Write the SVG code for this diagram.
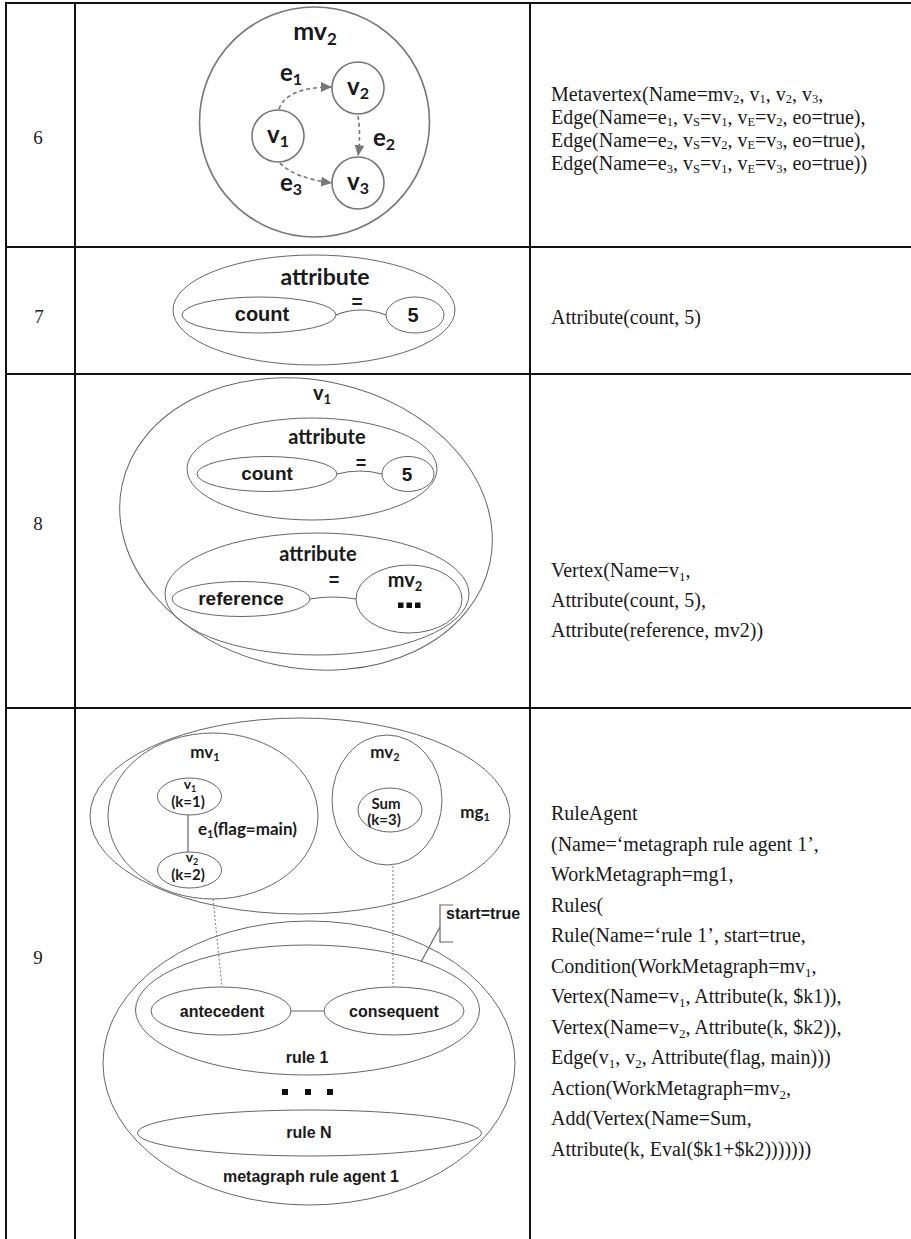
<svg xmlns="http://www.w3.org/2000/svg" width="911" height="1239" viewBox="0 0 911 1239">
  <style>
    .grid { stroke: #111; stroke-width: 2; fill: none; }
    .num { font-family: "Liberation Serif", "Times New Roman", serif; font-size: 19px; fill: #222; text-anchor: middle; }
    .desc { font-family: "Liberation Serif", "Times New Roman", serif; font-size: 20px; fill: #1a1a1a; }
    .s { font-size: 13px; }
    .s6 { font-size: 12.5px; }
    .shape { fill: none; stroke: #666; stroke-width: 1; }
    .c6 { fill: none; stroke: #777; stroke-width: 1.6; }
    .edge6 { fill: none; stroke: #777; stroke-width: 1.6; stroke-dasharray: 4 3; marker-end: url(#arrow); }
    .link { fill: none; stroke: #666; stroke-width: 1.2; }
    .dot { fill: none; stroke: #777; stroke-width: 1; stroke-dasharray: 2 2; }
    .lb { font-family: Lato, "Open Sans", sans-serif; font-weight: 700; fill: #1a1a1a; text-anchor: middle; }
    .ar { font-family: "Liberation Sans", Arial, sans-serif; font-weight: 700; fill: #1a1a1a; text-anchor: middle; }
    .sq { fill: #111; }
  </style>
  <defs>
    <marker id="arrow" markerUnits="userSpaceOnUse" markerWidth="12" markerHeight="10" refX="11" refY="5" orient="auto">
      <path d="M0,0 L11,5 L0,10 Z" fill="#777"/>
    </marker>
  </defs>

  <rect width="911" height="1239" fill="#fff"/>

  <!-- table grid -->
  <g id="table">
    <line class="grid" x1="6" y1="3" x2="911" y2="3"/>
    <line class="grid" x1="6" y1="247" x2="911" y2="247"/>
    <line class="grid" x1="6" y1="374" x2="911" y2="374"/>
    <line class="grid" x1="6" y1="708" x2="911" y2="708"/>
    <line class="grid" x1="6" y1="2" x2="6" y2="1239"/>
    <line class="grid" x1="75" y1="2" x2="75" y2="1239"/>
    <line class="grid" x1="530" y1="2" x2="530" y2="1239"/>
  </g>

  <!-- row numbers -->
  <g id="row-numbers">
    <text class="num" x="38" y="144">6</text>
    <text class="num" x="39" y="323">7</text>
    <text class="num" x="38" y="530">8</text>
    <text class="num" x="38" y="964">9</text>
  </g>

  <!-- row 6: metavertex mv2 -->
  <g id="mv2-metavertex">
    <circle class="c6" cx="314.5" cy="122" r="115"/>
    <text class="lb" x="315" y="40" font-size="25">mv<tspan font-size="17" dy="5">2</tspan></text>
  </g>
  <g id="r6-v1">
    <circle class="c6" cx="278" cy="136" r="26"/>
    <text class="lb" x="278" y="143" font-size="24">v<tspan font-size="16" dy="4">1</tspan></text>
  </g>
  <g id="r6-v2">
    <circle class="c6" cx="358" cy="88" r="26"/>
    <text class="lb" x="358" y="95" font-size="24">v<tspan font-size="16" dy="4">2</tspan></text>
  </g>
  <g id="r6-v3">
    <circle class="c6" cx="358" cy="183" r="26"/>
    <text class="lb" x="358" y="190" font-size="24">v<tspan font-size="16" dy="4">3</tspan></text>
  </g>
  <g id="r6-edges">
    <path class="edge6" d="M279,109 Q287,87 332,87"/>
    <path class="edge6" d="M358,116 Q361,135 358,156"/>
    <path class="edge6" d="M280,163 Q294,178 332,183"/>
    <text class="lb" x="291" y="81" font-size="24">e<tspan font-size="16" dy="4">1</tspan></text>
    <text class="lb" x="384" y="146" font-size="24">e<tspan font-size="16" dy="4">2</tspan></text>
    <text class="lb" x="291" y="191" font-size="24">e<tspan font-size="16" dy="4">3</tspan></text>
  </g>

  <!-- row 7: attribute -->
  <g id="r7-attribute">
    <ellipse class="shape" cx="314" cy="310" rx="141" ry="55"/>
    <text class="lb" x="325" y="285" font-size="23">attribute</text>
    <text class="ar" x="357" y="308" font-size="19">=</text>
  </g>
  <g id="r7-count">
    <ellipse class="shape" cx="259" cy="315" rx="77" ry="18"/>
    <text class="ar" x="262" y="321" font-size="20">count</text>
  </g>
  <g id="r7-value">
    <ellipse class="shape" cx="415" cy="315" rx="29" ry="18"/>
    <text class="ar" x="413" y="322" font-size="20">5</text>
  </g>
  <g id="r7-links">
    <path class="link" d="M336,315 Q360,305 386,315"/>
  </g>

  <!-- row 8: vertex v1 with attributes -->
  <g id="r8-v1">
    <ellipse class="shape" cx="306" cy="524" rx="188" ry="144" transform="rotate(12 306 524)"/>
    <text class="lb" x="322" y="400" font-size="20">v<tspan font-size="13" dy="4">1</tspan></text>
  </g>
  <g id="r8-attribute-count">
    <ellipse class="shape" cx="312" cy="469" rx="125" ry="51"/>
    <text class="lb" x="327" y="444" font-size="20">attribute</text>
    <text class="ar" x="361" y="469" font-size="18">=</text>
  </g>
  <g id="r8-count">
    <ellipse class="shape" cx="267" cy="474" rx="70" ry="17.5"/>
    <text class="ar" x="267" y="480" font-size="19">count</text>
  </g>
  <g id="r8-value">
    <ellipse class="shape" cx="408" cy="474" rx="26" ry="17.5"/>
    <text class="ar" x="407" y="481" font-size="19">5</text>
  </g>
  <g id="r8-attribute-ref">
    <ellipse class="shape" cx="317" cy="594" rx="152" ry="61"/>
    <text class="lb" x="318" y="561" font-size="20">attribute</text>
    <text class="ar" x="334" y="586" font-size="18">=</text>
  </g>
  <g id="r8-reference">
    <ellipse class="shape" cx="241" cy="599" rx="69" ry="17.5"/>
    <text class="ar" x="241" y="605" font-size="19">reference</text>
  </g>
  <g id="r8-mv2">
    <ellipse class="shape" cx="409" cy="599" rx="53" ry="34"/>
    <text class="lb" x="405" y="587" font-size="20">mv<tspan font-size="13" dy="4">2</tspan></text>
    <rect class="sq" x="398" y="602.5" width="5.5" height="5.5"/>
    <rect class="sq" x="406.5" y="602.5" width="5.5" height="5.5"/>
    <rect class="sq" x="415" y="602.5" width="5.5" height="5.5"/>
  </g>
  <g id="r8-links">
    <path class="link" d="M337,474 Q360,468 382,474"/>
    <path class="link" d="M310,599 Q333,595 356,599"/>
  </g>

  <!-- row 9: metagraph mg1 and rule agent -->
  <g id="mg1">
    <ellipse class="shape" cx="300" cy="816" rx="210" ry="98"/>
    <text class="lb" x="475" y="818" font-size="17">mg<tspan font-size="11" dy="3">1</tspan></text>
  </g>
  <g id="mv1">
    <ellipse class="shape" cx="213" cy="816" rx="105" ry="83"/>
    <text class="lb" x="205" y="758" font-size="17">mv<tspan font-size="11" dy="3">1</tspan></text>
  </g>
  <g id="r9-v1">
    <ellipse class="shape" cx="189.5" cy="796.5" rx="32" ry="18.5"/>
    <text class="lb" x="190" y="789" font-size="14">v<tspan font-size="9" dy="3">1</tspan></text>
    <text class="lb" x="188" y="807" font-size="15">(k=1)</text>
  </g>
  <g id="r9-v2">
    <ellipse class="shape" cx="189.5" cy="870" rx="32" ry="18"/>
    <text class="lb" x="192" y="862" font-size="14">v<tspan font-size="9" dy="3">2</tspan></text>
    <text class="lb" x="188" y="880" font-size="15">(k=2)</text>
  </g>
  <g id="mv2">
    <ellipse class="shape" cx="387" cy="800" rx="55" ry="65"/>
    <text class="lb" x="385" y="758" font-size="17">mv<tspan font-size="11" dy="3">2</tspan></text>
  </g>
  <g id="sum">
    <ellipse class="shape" cx="390" cy="810" rx="32" ry="22"/>
    <text class="lb" x="386" y="809" font-size="15">Sum</text>
    <text class="lb" x="384" y="825" font-size="15">(k=3)</text>
  </g>
  <g id="agent">
    <ellipse class="shape" cx="309" cy="1063" rx="206" ry="142"/>
    <text class="ar" x="311" y="1182" font-size="16">metagraph rule agent 1</text>
  </g>
  <g id="rule-1">
    <ellipse class="shape" cx="307.5" cy="1010" rx="172" ry="65"/>
    <text class="ar" x="307" y="1063" font-size="16">rule 1</text>
  </g>
  <g id="antecedent">
    <ellipse class="shape" cx="221" cy="1011" rx="70" ry="24"/>
    <text class="ar" x="222" y="1017" font-size="16">antecedent</text>
  </g>
  <g id="consequent">
    <ellipse class="shape" cx="394" cy="1011" rx="70" ry="24"/>
    <text class="ar" x="394" y="1017" font-size="16">consequent</text>
  </g>
  <g id="ellipsis">
    <rect class="sq" x="282" y="1089" width="6" height="6"/>
    <rect class="sq" x="305" y="1089" width="6" height="6"/>
    <rect class="sq" x="327" y="1089" width="6" height="6"/>
  </g>
  <g id="rule-n">
    <ellipse class="shape" cx="309.5" cy="1133" rx="172" ry="23"/>
    <text class="ar" x="309" y="1138" font-size="16">rule N</text>
  </g>
  <g id="start-callout">
    <path class="link" d="M453,905 H440 V942 H453" stroke-width="1"/>
    <path class="link" d="M440,927 L421,962" stroke-width="1"/>
    <text class="ar" x="446" y="919" font-size="16" style="text-anchor:start">start=true</text>
  </g>
  <g id="r9-connectors">
    <line class="link" x1="188" y1="815" x2="188" y2="852"/>
    <text class="lb" x="198" y="835" font-size="17" style="text-anchor:start">e<tspan font-size="11" dy="3">1</tspan><tspan dy="-3">(flag=main)</tspan></text>
    <line class="dot" x1="213" y1="899" x2="222" y2="987"/>
    <line class="dot" x1="393" y1="866" x2="393" y2="987"/>
    <line class="link" x1="291" y1="1011" x2="324" y2="1011"/>
  </g>

  <!-- textual notation column -->
  <g id="notation-6">
    <text class="desc" x="551" y="100.5">Metavertex(Name=mv<tspan class="s6" dy="2.5">2</tspan><tspan dy="-2.5">, v</tspan><tspan class="s6" dy="2.5">1</tspan><tspan dy="-2.5">, v</tspan><tspan class="s6" dy="2.5">2</tspan><tspan dy="-2.5">, v</tspan><tspan class="s6" dy="2.5">3</tspan><tspan dy="-2.5">,</tspan><tspan x="551" y="123.7">Edge(Name=e</tspan><tspan class="s6" dy="2.5">1</tspan><tspan dy="-2.5">, v</tspan><tspan class="s6" dy="2.5">S</tspan><tspan dy="-2.5">=v</tspan><tspan class="s6" dy="2.5">1</tspan><tspan dy="-2.5">, v</tspan><tspan class="s6" dy="2.5">E</tspan><tspan dy="-2.5">=v</tspan><tspan class="s6" dy="2.5">2</tspan><tspan dy="-2.5">, eo=true),</tspan><tspan x="551" y="146.9">Edge(Name=e</tspan><tspan class="s6" dy="2.5">2</tspan><tspan dy="-2.5">, v</tspan><tspan class="s6" dy="2.5">S</tspan><tspan dy="-2.5">=v</tspan><tspan class="s6" dy="2.5">2</tspan><tspan dy="-2.5">, v</tspan><tspan class="s6" dy="2.5">E</tspan><tspan dy="-2.5">=v</tspan><tspan class="s6" dy="2.5">3</tspan><tspan dy="-2.5">, eo=true),</tspan><tspan x="551" y="170.1">Edge(Name=e</tspan><tspan class="s6" dy="2.5">3</tspan><tspan dy="-2.5">, v</tspan><tspan class="s6" dy="2.5">S</tspan><tspan dy="-2.5">=v</tspan><tspan class="s6" dy="2.5">1</tspan><tspan dy="-2.5">, v</tspan><tspan class="s6" dy="2.5">E</tspan><tspan dy="-2.5">=v</tspan><tspan class="s6" dy="2.5">3</tspan><tspan dy="-2.5">, eo=true))</tspan></text>
  </g>
  <g id="notation-7">
    <text class="desc" x="551" y="324">Attribute(count, 5)</text>
  </g>
  <g id="notation-8">
    <text class="desc" x="551" y="577">Vertex(Name=v<tspan class="s" dy="4">1</tspan><tspan dy="-4">,</tspan><tspan x="551" y="607">Attribute(count, 5),</tspan><tspan x="551" y="637">Attribute(reference, mv2))</tspan></text>
  </g>
  <g id="notation-9">
    <text class="desc" x="551" y="820">RuleAgent<tspan x="551" y="850.5">(Name=‘metagraph rule agent 1’,</tspan><tspan x="551" y="881">WorkMetagraph=mg1,</tspan><tspan x="551" y="911.5">Rules(</tspan><tspan x="551" y="942">Rule(Name=‘rule 1’, start=true,</tspan><tspan x="551" y="972.5">Condition(WorkMetagraph=mv</tspan><tspan class="s" dy="4">1</tspan><tspan dy="-4">,</tspan><tspan x="551" y="1003">Vertex(Name=v</tspan><tspan class="s" dy="4">1</tspan><tspan dy="-4">, Attribute(k, $k1)),</tspan><tspan x="551" y="1033.5">Vertex(Name=v</tspan><tspan class="s" dy="4">2</tspan><tspan dy="-4">, Attribute(k, $k2)),</tspan><tspan x="551" y="1064">Edge(v</tspan><tspan class="s" dy="4">1</tspan><tspan dy="-4">, v</tspan><tspan class="s" dy="4">2</tspan><tspan dy="-4">, Attribute(flag, main)))</tspan><tspan x="551" y="1094.5">Action(WorkMetagraph=mv</tspan><tspan class="s" dy="4">2</tspan><tspan dy="-4">,</tspan><tspan x="551" y="1125">Add(Vertex(Name=Sum,</tspan><tspan x="551" y="1155.5">Attribute(k, Eval($k1+$k2)))))))</tspan></text>
  </g>
</svg>
